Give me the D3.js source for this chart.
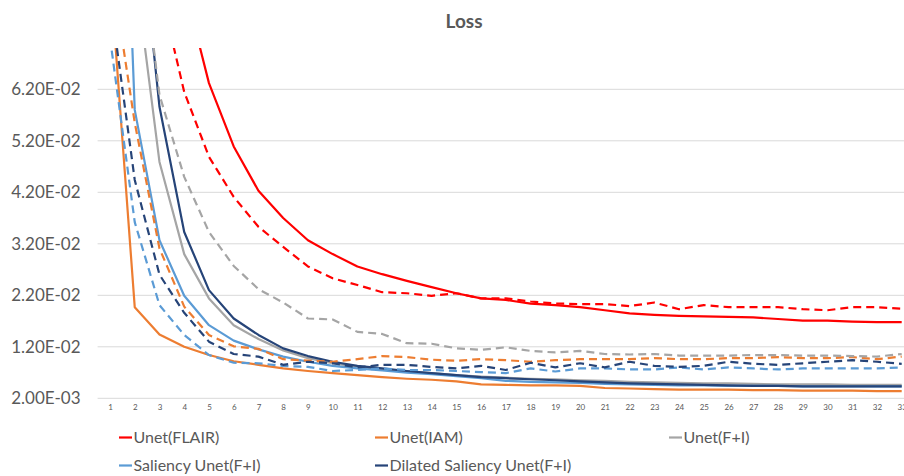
<!DOCTYPE html>
<html>
<head>
<meta charset="utf-8">
<script src="https://cdn.jsdelivr.net/npm/d3@7"></script>
<style>
  body { margin: 0; background: #fff; }
  svg { font-family: Lato, "Open Sans", sans-serif; }
</style>
</head>
<body>
<svg id="chart"></svg>
<script>
// epochs on the category axis
const epochs = d3.range(1, 34);
const yTicks = [0.002, 0.012, 0.022, 0.032, 0.042, 0.052, 0.062];

// training loss (solid)
const unetFlair = [0.16, 0.13, 0.105, 0.0822, 0.0632, 0.0509, 0.0423, 0.0370, 0.0327, 0.0300, 0.0276, 0.0261, 0.0248, 0.0236, 0.0224, 0.0214, 0.0211, 0.0204, 0.0201, 0.0197, 0.0191, 0.0185, 0.0182, 0.0180, 0.0179, 0.0178, 0.0177, 0.0174, 0.0171, 0.0171, 0.0169, 0.0168, 0.0168];
const unetIam = [0.085, 0.0197, 0.0144, 0.0120, 0.0104, 0.0092, 0.0085, 0.0078, 0.0073, 0.0069, 0.0065, 0.0061, 0.0058, 0.0056, 0.0053, 0.0047, 0.0046, 0.0045, 0.0045, 0.0044, 0.0040, 0.0039, 0.0038, 0.0037, 0.0037, 0.0037, 0.0036, 0.0036, 0.0035, 0.0035, 0.0035, 0.0034, 0.0034];
const unetFI = [0.12, 0.0857, 0.0479, 0.0300, 0.0214, 0.0162, 0.0135, 0.0113, 0.0098, 0.0088, 0.0081, 0.0076, 0.0072, 0.0069, 0.0065, 0.0062, 0.0060, 0.0058, 0.0057, 0.0055, 0.0054, 0.0052, 0.0051, 0.0050, 0.0049, 0.0049, 0.0048, 0.0047, 0.0047, 0.0047, 0.0046, 0.0046, 0.0046];
const salUnet = [0.183, 0.0580, 0.0327, 0.0219, 0.0162, 0.0132, 0.0115, 0.0101, 0.0091, 0.0083, 0.0078, 0.0074, 0.0070, 0.0067, 0.0063, 0.0059, 0.0054, 0.0052, 0.0051, 0.0050, 0.0048, 0.0047, 0.0046, 0.0045, 0.0045, 0.0044, 0.0044, 0.0044, 0.0043, 0.0043, 0.0043, 0.0043, 0.0043];
const dilSalUnet = [0.14, 0.105, 0.0586, 0.0343, 0.0230, 0.0175, 0.0143, 0.0117, 0.0102, 0.0091, 0.0083, 0.0078, 0.0073, 0.0069, 0.0065, 0.0061, 0.0059, 0.0057, 0.0055, 0.0053, 0.0051, 0.0049, 0.0048, 0.0047, 0.0046, 0.0045, 0.0044, 0.0044, 0.0043, 0.0043, 0.0043, 0.0043, 0.0043];

// validation loss (dashed)
const unetFlairVal = [0.14, 0.11, 0.082, 0.0615, 0.0489, 0.0411, 0.0353, 0.0314, 0.0276, 0.0253, 0.0240, 0.0226, 0.0224, 0.0219, 0.0224, 0.0214, 0.0214, 0.0208, 0.0204, 0.0203, 0.0203, 0.0199, 0.0206, 0.0193, 0.0201, 0.0197, 0.0197, 0.0197, 0.0193, 0.0191, 0.0197, 0.0197, 0.0194];
const unetIamVal = [0.0873, 0.0555, 0.0311, 0.0198, 0.0143, 0.0121, 0.0116, 0.0096, 0.0093, 0.0091, 0.0096, 0.0102, 0.0100, 0.0095, 0.0093, 0.0096, 0.0094, 0.0091, 0.0094, 0.0096, 0.0096, 0.0096, 0.0098, 0.0096, 0.0096, 0.0098, 0.0098, 0.0100, 0.0098, 0.0098, 0.0100, 0.0096, 0.0101];
const unetFIVal = [0.13, 0.10, 0.0609, 0.0450, 0.0343, 0.0277, 0.0232, 0.0206, 0.0175, 0.0173, 0.0149, 0.0145, 0.0127, 0.0126, 0.0117, 0.0114, 0.0119, 0.0112, 0.0109, 0.0112, 0.0106, 0.0105, 0.0106, 0.0103, 0.0103, 0.0103, 0.0104, 0.0104, 0.0103, 0.0103, 0.0102, 0.0101, 0.0106];
const salUnetVal = [0.072, 0.0362, 0.0201, 0.0143, 0.0104, 0.0089, 0.0088, 0.0083, 0.0081, 0.0073, 0.0075, 0.0078, 0.0075, 0.0075, 0.0073, 0.0071, 0.0069, 0.0078, 0.0072, 0.0078, 0.0078, 0.0076, 0.0076, 0.0080, 0.0076, 0.0080, 0.0078, 0.0076, 0.0078, 0.0078, 0.0078, 0.0078, 0.0080];
const dilSalUnetVal = [0.080, 0.0444, 0.0260, 0.0186, 0.0130, 0.0106, 0.0101, 0.0085, 0.0091, 0.0088, 0.0080, 0.0085, 0.0085, 0.0081, 0.0078, 0.0083, 0.0075, 0.0089, 0.0080, 0.0088, 0.0080, 0.0091, 0.0083, 0.0081, 0.0083, 0.0091, 0.0087, 0.0085, 0.0088, 0.0091, 0.0094, 0.0091, 0.0087];

const series = [
  {name: "Unet(FLAIR)", values: unetFlair, color: "#ff0000", dashed: false, legend: true},
  {name: "Unet(IAM)", values: unetIam, color: "#ed7d31", dashed: false, legend: true},
  {name: "Unet(F+I)", values: unetFI, color: "#a5a5a5", dashed: false, legend: true},
  {name: "Saliency Unet(F+I)", values: salUnet, color: "#5b9bd5", dashed: false, legend: true},
  {name: "Dilated Saliency Unet(F+I)", values: dilSalUnet, color: "#264478", dashed: false, legend: true},
  {name: "Unet(FLAIR) val", values: unetFlairVal, color: "#ff0000", dashed: true},
  {name: "Unet(IAM) val", values: unetIamVal, color: "#ed7d31", dashed: true},
  {name: "Unet(F+I) val", values: unetFIVal, color: "#a5a5a5", dashed: true},
  {name: "Saliency Unet(F+I) val", values: salUnetVal, color: "#5b9bd5", dashed: true},
  {name: "Dilated Saliency Unet(F+I) val", values: dilSalUnetVal, color: "#264478", dashed: true}
];

const width = 904, height = 476;
const plot = {left: 97.6, right: 926, top: 48.1, bottom: 398.3};
const textColor = "#595959";

const svg = d3.select("#chart").attr("width", width).attr("height", height);

const x = d3.scalePoint().domain(epochs).range([110, 901.7]);
const y = d3.scaleLinear().domain([0.002, 0.07]).range([plot.bottom, plot.top]);

function sci(v) {
  const [m, e] = v.toExponential(2).split("e");
  const sign = e[0] === "-" ? "-" : "+";
  return m + "E" + sign + e.replace(/[+-]/, "").padStart(2, "0");
}

// title
svg.append("text")
  .attr("x", 464).attr("y", 28)
  .attr("text-anchor", "middle")
  .attr("font-size", 19).attr("font-weight", "bold")
  .attr("fill", textColor)
  .text("Loss");

// gridlines
svg.append("g")
  .selectAll("line")
  .data(yTicks)
  .join("line")
  .attr("x1", plot.left).attr("x2", plot.right)
  .attr("y1", d => y(d)).attr("y2", d => y(d))
  .attr("stroke", "#d9d9d9").attr("stroke-width", 1);

// y axis labels
const yAxis = svg.append("g")
  .attr("transform", `translate(${plot.left}, 0)`)
  .call(d3.axisLeft(y).tickValues(yTicks).tickFormat(sci).tickSize(0).tickPadding(17));
yAxis.select(".domain").remove();
yAxis.selectAll("text")
  .attr("font-family", "Lato, 'Open Sans', sans-serif")
  .attr("font-size", 17).attr("fill", textColor);

// x axis labels
const xAxis = svg.append("g")
  .attr("transform", `translate(0, ${plot.bottom})`)
  .call(d3.axisBottom(x).tickSize(0).tickPadding(6));
xAxis.select(".domain").remove();
xAxis.selectAll("text")
  .attr("font-family", "Lato, 'Open Sans', sans-serif")
  .attr("font-size", 8).attr("fill", textColor);

// lines clipped to the plot area
svg.append("clipPath").attr("id", "plotClip")
  .append("rect")
  .attr("x", plot.left).attr("y", plot.top)
  .attr("width", plot.right - plot.left).attr("height", plot.bottom - plot.top);

const line = d3.line()
  .x((d, i) => x(epochs[i]))
  .y(d => y(d));

svg.append("g")
  .attr("clip-path", "url(#plotClip)")
  .selectAll("path")
  .data(series)
  .join("path")
  .attr("d", d => line(d.values))
  .attr("fill", "none")
  .attr("stroke", d => d.color)
  .attr("stroke-width", 2.2)
  .attr("stroke-linejoin", "round")
  .attr("stroke-dasharray", d => d.dashed ? "8,5" : null);

// legend
const legendPos = [[119, 443], [375, 443], [669, 443], [119, 471], [375, 471]];
const legend = svg.append("g")
  .selectAll("g")
  .data(series.filter(d => d.legend))
  .join("g")
  .attr("transform", (d, i) => `translate(${legendPos[i][0]}, ${legendPos[i][1]})`);

legend.append("line")
  .attr("x1", 0).attr("x2", 13)
  .attr("y1", -5.5).attr("y2", -5.5)
  .attr("stroke", d => d.color).attr("stroke-width", 2.2);

legend.append("text")
  .attr("x", 14.5).attr("y", 0)
  .attr("font-size", 16).attr("fill", textColor)
  .text(d => d.name);
</script>
</body>
</html>
